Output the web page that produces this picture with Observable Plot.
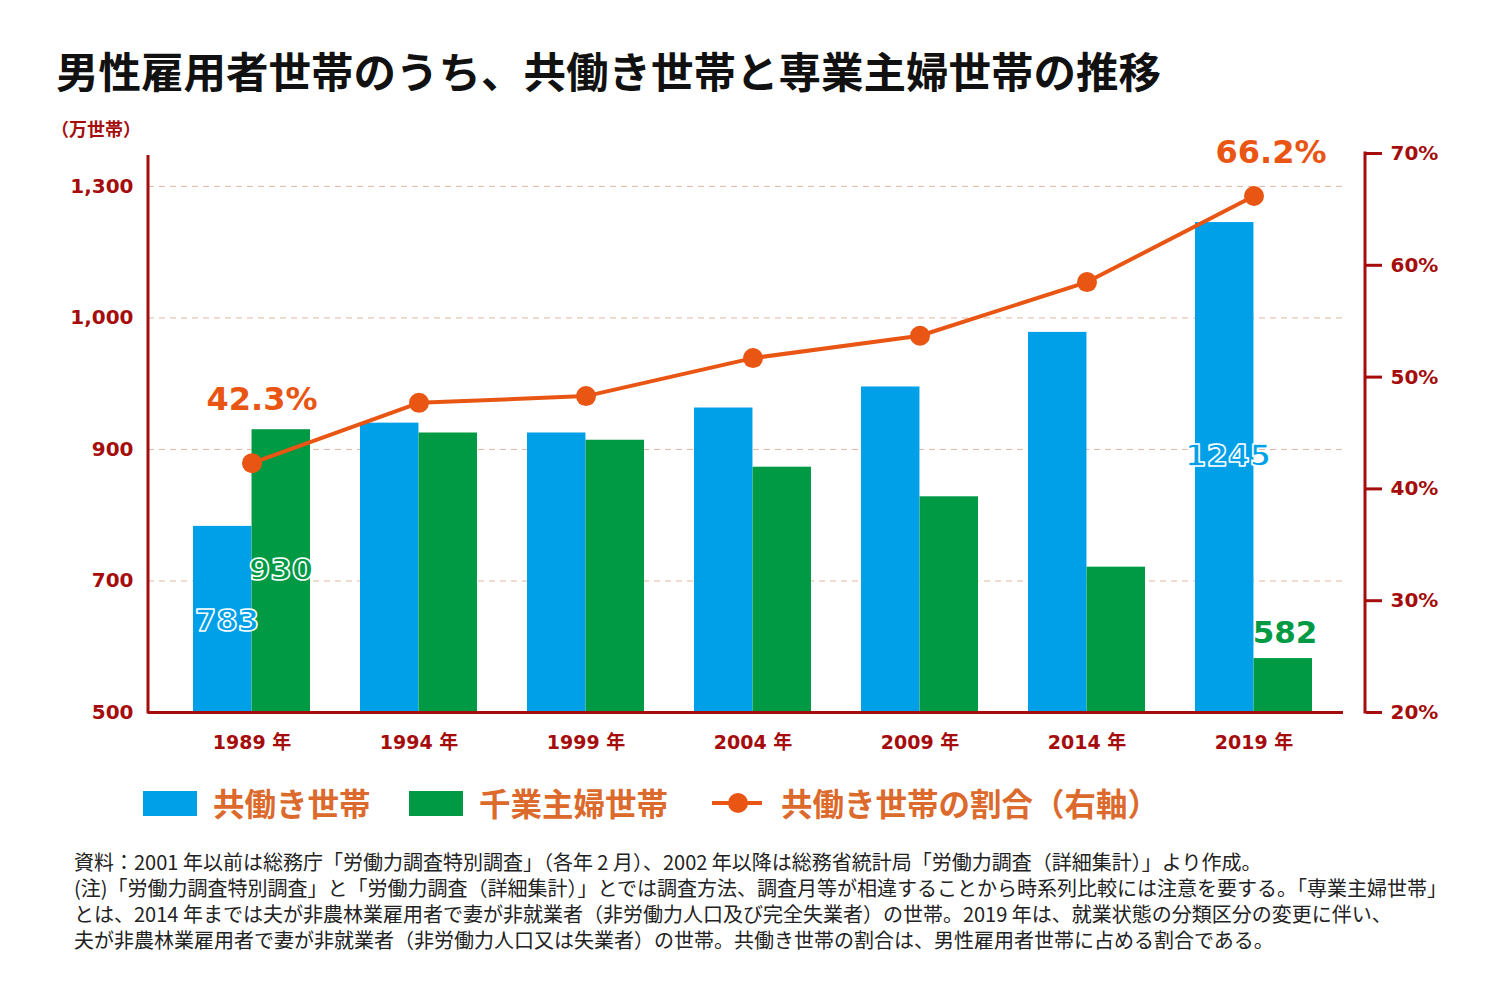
<!DOCTYPE html>
<html><head><meta charset="utf-8">
<script src="https://cdn.jsdelivr.net/npm/d3@7"></script>
<script src="https://cdn.jsdelivr.net/npm/@observablehq/plot@0.6"></script>
<style>
body{margin:0;background:#fff;}
#wrap{position:relative;width:1500px;height:1006px;overflow:hidden;font-family:"Noto Sans CJK JP","Noto Sans",sans-serif;background:#fff;}
#title{position:absolute;left:56px;top:43px;font-size:42.5px;font-weight:700;color:#111;white-space:nowrap;line-height:54px;}
#unit{position:absolute;left:51px;top:115px;font-size:18px;font-weight:700;color:#a50d0d;line-height:26px;white-space:nowrap;}
#chart{position:absolute;left:0;top:130px;}
.lg{position:absolute;}
.lt{position:absolute;font-size:31.5px;font-weight:700;color:#dc6a2c;line-height:40px;white-space:nowrap;}
#notes{position:absolute;left:74px;top:849px;font-size:20px;line-height:26px;color:#222;white-space:nowrap;}
</style></head>
<body><div id="wrap">
<div id="title"></div>
<div id="unit"></div>
<div id="chart"></div>
<div id="legend"></div>
<div id="notes"></div>
</div>
<script>
const titleText = "男性雇用者世帯のうち、共働き世帯と専業主婦世帯の推移";
const unitText = "（万世帯）";
const years = ["1989 年","1994 年","1999 年","2004 年","2009 年","2014 年","2019 年"];
const dualIncome = [783, 940, 925, 963, 995, 1078, 1245];
const housewife = [930, 925, 914, 873, 828, 721, 582];
const dualShare = [42.3, 47.7, 48.3, 51.7, 53.7, 58.5, 66.2];
const leftTicks = [500, 700, 900, 1100, 1300];
const leftTickLabels = ["500", "700", "900", "1,000", "1,300"];
const gridTicks = [700, 900, 1100, 1300];
const rightTicks = [20, 30, 40, 50, 60, 70];
const yDomain = [500, 1350];
const shareDomain = [20, 70];
const legendLabels = ["共働き世帯", "千業主婦世帯", "共働き世帯の割合（右軸）"];
const notes = [
  "資料：2001 年以前は総務庁「労働力調査特別調査」（各年 2 月）、2002 年以降は総務省統計局「労働力調査（詳細集計）」より作成。",
  "(注)「労働力調査特別調査」と「労働力調査（詳細集計）」とでは調査方法、調査月等が相違することから時系列比較には注意を要する。「専業主婦世帯」",
  "とは、2014 年までは夫が非農林業雇用者で妻が非就業者（非労働力人口及び完全失業者）の世帯。2019 年は、就業状態の分類区分の変更に伴い、",
  "夫が非農林業雇用者で妻が非就業者（非労働力人口又は失業者）の世帯。共働き世帯の割合は、男性雇用者世帯に占める割合である。"
];

const BLUE = "#00a0e9", GREEN = "#009944", ORANGE = "#e95513", AXIS = "#a50d0d";

document.getElementById("title").textContent = titleText;
document.getElementById("unit").textContent = unitText;
document.getElementById("notes").innerHTML = notes.map(t => `<div>${t}</div>`).join("");

const rows = years.map((year, i) => ({year, dual: dualIncome[i], wife: housewife[i], share: dualShare[i]}));
const shareToY = d3.scaleLinear(shareDomain, yDomain);
const xRange = [191.7, 1312.3];
const band = d3.scaleBand(years, xRange).paddingInner(0.3).paddingOuter(0);
const half = band.bandwidth() / 2;
const base = d => yDomain[0];
const txt = {fontSize: 31, fontWeight: "bold", fontFamily: "DejaVu Sans"};

const plot = Plot.plot({
  width: 1500, height: 632,
  marginTop: 23, marginBottom: 50, marginLeft: 148, marginRight: 157,
  style: {fontFamily: "DejaVu Sans, Noto Sans CJK JP", background: "transparent", overflow: "visible"},
  x: {domain: years, range: xRange, paddingInner: 0.3, paddingOuter: 0, axis: null},
  y: {domain: yDomain, axis: null},
  marks: [
    Plot.gridY(gridTicks, {stroke: "#e2b5a3", strokeOpacity: 1, strokeDasharray: "6,5"}),
    Plot.barY(rows, {x: "year", y1: base, y2: "dual", fill: BLUE, insetRight: half}),
    Plot.barY(rows, {x: "year", y1: base, y2: "wife", fill: GREEN, insetLeft: half}),
    Plot.ruleY([yDomain[0]], {stroke: AXIS, strokeWidth: 3}),
    Plot.line(rows, {x: "year", y: d => shareToY(d.share), stroke: ORANGE, strokeWidth: 4}),
    Plot.dot(rows, {x: "year", y: d => shareToY(d.share), r: 10, fill: ORANGE}),
    Plot.axisX({anchor: "bottom", tickSize: 0, tickPadding: 23, fontSize: 19, fontWeight: "bold", color: AXIS, label: null}),
    Plot.axisY(leftTicks, {anchor: "left", tickSize: 0, tickPadding: 15, fontSize: 20, fontWeight: "bold", color: AXIS, label: null,
      tickFormat: d => leftTickLabels[leftTicks.indexOf(d)]}),
    Plot.axisY(rightTicks.map(shareToY), {anchor: "right", tickSize: 16, tickPadding: 9, strokeWidth: 3, dx: 22, fontSize: 20, fontWeight: "bold", color: AXIS, label: null,
      tickFormat: d => Math.round(shareToY.invert(d)) + "%"}),
    // value labels
    Plot.text([rows[0]], {x: "year", y: d => shareToY(d.share), text: d => d.share.toFixed(1) + "%", dx: 10, dy: -63, fill: ORANGE, ...txt, fontSize: 32}),
    Plot.text([rows[6]], {x: "year", y: d => shareToY(d.share), text: d => d.share.toFixed(1) + "%", dx: 17, dy: -43, fill: ORANGE, ...txt, fontSize: 32}),
    Plot.text([rows[0]], {x: "year", y: "dual", text: d => String(d.dual), dx: -25, dy: 95, fill: BLUE, stroke: "#fff", strokeWidth: 1.6, paintOrder: "normal", ...txt}),
    Plot.text([rows[0]], {x: "year", y: "wife", text: d => String(d.wife), dx: 29, dy: 140, fill: GREEN, stroke: "#fff", strokeWidth: 1.6, paintOrder: "normal", ...txt}),
    Plot.text([rows[6]], {x: "year", y: "dual", text: d => String(d.dual), dx: -26, dy: 234, fill: BLUE, stroke: "#fff", strokeWidth: 1.6, paintOrder: "normal", ...txt}),
    Plot.text([rows[6]], {x: "year", y: "wife", text: d => String(d.wife), dx: 31, dy: -25, fill: GREEN, ...txt})
  ]
});
document.getElementById("chart").appendChild(plot);

// vertical axis lines (left and right), from the y scale
const ys = plot.scale("y");
const svg = d3.select(plot);
const yTop = ys.apply(yDomain[1]), yBot = ys.apply(yDomain[0]);
svg.append("line").attr("x1", 148).attr("x2", 148).attr("y1", yTop + 2).attr("y2", yBot + 1.5)
  .attr("stroke", AXIS).attr("stroke-width", 3);
svg.append("line").attr("x1", 1365).attr("x2", 1365).attr("y1", yTop - 1.5).attr("y2", yBot + 1.5)
  .attr("stroke", AXIS).attr("stroke-width", 3);

// legend
const lg = document.getElementById("legend");
const legendPos = [
  {sw: 143, tx: 213, kind: "rect", color: BLUE},
  {sw: 409, tx: 479, kind: "rect", color: GREEN},
  {sw: 712, tx: 781, kind: "line", color: ORANGE}
];
legendLabels.forEach((lab, i) => {
  const p = legendPos[i];
  if (p.kind === "rect") {
    const r = document.createElement("div");
    r.className = "lg";
    Object.assign(r.style, {left: p.sw + "px", top: "791px", width: "54px", height: "25px", background: p.color});
    lg.appendChild(r);
  } else {
    const s = d3.create("svg").attr("width", 52).attr("height", 24)
      .style("position", "absolute").style("left", p.sw + "px").style("top", "791px");
    s.append("line").attr("x1", 0).attr("x2", 50).attr("y1", 12).attr("y2", 12).attr("stroke", p.color).attr("stroke-width", 4);
    s.append("circle").attr("cx", 26).attr("cy", 12).attr("r", 10).attr("fill", p.color);
    lg.appendChild(s.node());
  }
  const t = document.createElement("div");
  t.className = "lt";
  t.textContent = lab;
  Object.assign(t.style, {left: p.tx + "px", top: "782px"});
  lg.appendChild(t);
});
</script>
</body></html>
